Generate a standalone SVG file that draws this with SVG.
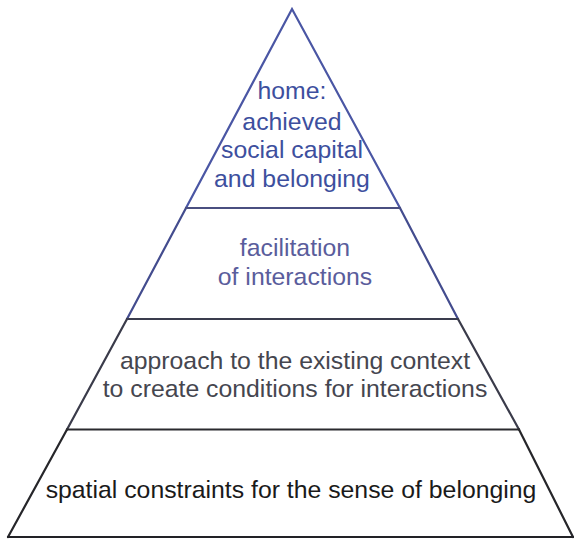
<svg xmlns="http://www.w3.org/2000/svg" width="574" height="540" viewBox="0 0 574 540">
  <style>
    .t { font-family: "Liberation Sans", Arial, sans-serif; font-size: 24.8px; text-anchor: middle; }
    .edge { fill: none; stroke-width: 2.2; stroke-linejoin: miter; stroke-linecap: round; }
  </style>
  <rect width="574" height="540" fill="#ffffff"/>
  <g id="connectors">
    <path class="edge" d="M186,208 L292,9 L400,208" stroke="#4a56a4"/>
    <path class="edge" d="M186,208 L127,319 M400,208 L458,319" stroke="#434c8e"/>
    <path class="edge" d="M127,319 L67,429.5 M458,319 L519,429.5" stroke="#3a3b4a"/>
    <path class="edge" d="M67,429.5 L8,537 M519,429.5 L573,537" stroke="#26262a"/>
    <line class="edge" x1="186" y1="208" x2="400" y2="208" stroke="#4a4f80"/>
    <line class="edge" x1="127" y1="319" x2="458" y2="319" stroke="#3a3c4e"/>
    <line class="edge" x1="67" y1="429.5" x2="519" y2="429.5" stroke="#2a2a2e"/>
    <line class="edge" x1="8" y1="537" x2="573" y2="537" stroke="#222226"/>
  </g>
  <g id="tier-home">
    <text class="t" x="292" y="99" fill="#3d4f9e">home:</text>
    <text class="t" x="292" y="130" fill="#3d4f9e">achieved</text>
    <text class="t" x="292" y="158" fill="#3d4f9e">social capital</text>
    <text class="t" x="292" y="187" fill="#3d4f9e">and belonging</text>
  </g>
  <g id="tier-facilitation">
    <text class="t" x="295" y="256" fill="#5a5d9c">facilitation</text>
    <text class="t" x="295" y="285" fill="#5a5d9c">of interactions</text>
  </g>
  <g id="tier-approach">
    <text class="t" x="295" y="369" fill="#45464f">approach to the existing context</text>
    <text class="t" x="295" y="397" fill="#45464f">to create conditions for interactions</text>
  </g>
  <g id="tier-spatial">
    <text class="t" x="291" y="498" fill="#1a1a1a">spatial constraints for the sense of belonging</text>
  </g>
</svg>
